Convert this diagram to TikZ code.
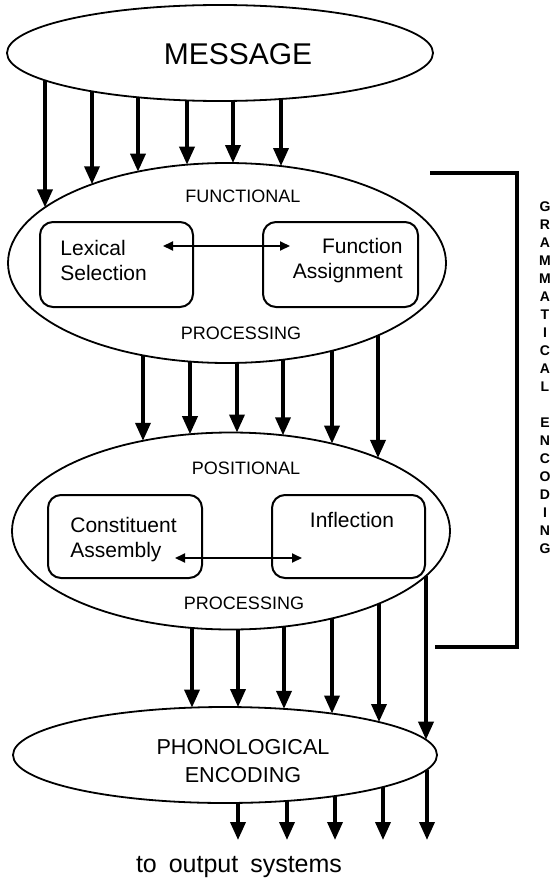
\documentclass[tikz,border=0pt]{standalone}
\usepackage{fontspec}
\setmainfont{Liberation Sans}
\usetikzlibrary{shapes.geometric,arrows.meta,intersections}

\tikzset{
  stage/.style={draw, ellipse, line width=0.9pt, inner sep=0pt, outer sep=0pt},
  unitbox/.style={draw, rounded corners=6.5pt, line width=1pt, inner sep=0pt, outer sep=0pt},
  flow/.style={line width=1.8pt, -{Triangle[length=9pt,width=7.5pt]}},
  twoway/.style={line width=1pt, {Triangle[length=5pt,width=4.5pt]}-{Triangle[length=5pt,width=4.5pt]}},
  caps/.style={font=\fontsize{9}{11}\selectfont, inner sep=0pt},
  unittext/.style={font=\fontsize{10.5}{12.5}\selectfont, inner sep=0pt}
}

\begin{document}
\begin{tikzpicture}[x=0.5pt, y=-0.5pt]
    \useasboundingbox (0,0) rectangle (556,883);
    % Levels (ellipses)
    \node[stage, minimum width=213pt, minimum height=48pt, name path=msgp] (msg) at (220,53) {};
    \node[font=\fontsize{15}{18}\selectfont] (msgtxt) at (238,54) {MESSAGE};
    \node[stage, minimum width=219pt, minimum height=100pt, name path=funcp] (func) at (227,263) {};
    \node[stage, minimum width=219pt, minimum height=98.5pt, name path=posp] (pos) at (231,531) {};
    \node[stage, minimum width=212pt, minimum height=48pt, name path=phonp] (phon) at (225,755) {};
    % Functional level
    \node[caps] (funtop) at (243,196) {FUNCTIONAL};
    \node[caps] (funbot) at (241,333) {PROCESSING};
    \node[unitbox, minimum width=76.5pt, minimum height=42.5pt] (lexbox) at (116.5,264.5) {};
    \node[unitbox, minimum width=77.5pt, minimum height=42.5pt] (fabox) at (340.5,264.5) {};
    \node[unittext, align=left, anchor=west] (lextxt) at (60,260.5) {Lexical\\Selection};
    \node[unittext, align=right, anchor=east] (fatxt) at (403,260.5) {Function\\Assignment};
    \coordinate (lexR) at (163,246);
    \coordinate (faL) at (290,246);
    \draw[twoway] (lexR) -- (faL);
    % Positional level
    \node[caps] (postop) at (246,468) {POSITIONAL};
    \node[caps] (posbot) at (244,603) {PROCESSING};
    \node[unitbox, minimum width=77pt, minimum height=41.5pt] (cabox) at (125,536.5) {};
    \node[unitbox, minimum width=76.5pt, minimum height=41.5pt] (infbox) at (348.5,536.5) {};
    \node[unittext, align=left, anchor=west] (catxt) at (70,539.5) {Constituent\\Assembly};
    \node[unittext] (inftxt) at (352,520) {Inflection};
    \coordinate (caR) at (175,558);
    \coordinate (infL) at (302,558);
    \draw[twoway] (caR) -- (infL);
    % Phonological level
    \node[font=\fontsize{10.8}{14}\selectfont, align=center, inner sep=0pt] (phontxt) at (243,761) {PHONOLOGICAL\\ENCODING};
    \node[font=\fontsize{12.5}{15}\selectfont] (outtxt) at (239,867) {to\hspace{2.5pt} output\hspace{2.5pt} systems};
    % Downward arrows between levels
    \foreach \x in {45,92,138,187,233,281}{
        \path[name path=vline] (\x,0) -- (\x,883);
        \draw[flow, name intersections={of=vline and msgp, name=s, sort by=vline},
              name intersections={of=vline and funcp, name=t, sort by=vline}] (s-2) -- (t-1);
    }
    \foreach \x in {143,190,237,283,332,378}{
        \path[name path=vline] (\x,0) -- (\x,883);
        \draw[flow, name intersections={of=vline and funcp, name=s, sort by=vline},
              name intersections={of=vline and posp, name=t, sort by=vline}] (s-2) -- (t-1);
    }
    \foreach \x in {192,238,284,332,379,426}{
        \path[name path=vline] (\x,0) -- (\x,883);
        \draw[flow, name intersections={of=vline and posp, name=s, sort by=vline},
              name intersections={of=vline and phonp, name=t, sort by=vline}] (s-2) -- (t-1);
    }
    \coordinate (outlvl) at (0,840);
    \foreach \x in {238,287,335,383,427}{
        \path[name path=vline] (\x,0) -- (\x,883);
        \draw[flow, name intersections={of=vline and phonp, name=s, sort by=vline}] (s-2) -- (s-2 |- outlvl);
    }
    % Bracket and side label
    \draw[line width=2.2pt] (430,173) -- (517,173) -- (517,647) -- (435,647);
    \node[font=\bfseries\fontsize{7}{9}\selectfont, align=center, inner sep=0pt] (gram) at (545,378)
        {G\\R\\A\\M\\M\\A\\T\\I\\C\\A\\L\\[9pt]E\\N\\C\\O\\D\\I\\N\\G};
\end{tikzpicture}
\end{document}
